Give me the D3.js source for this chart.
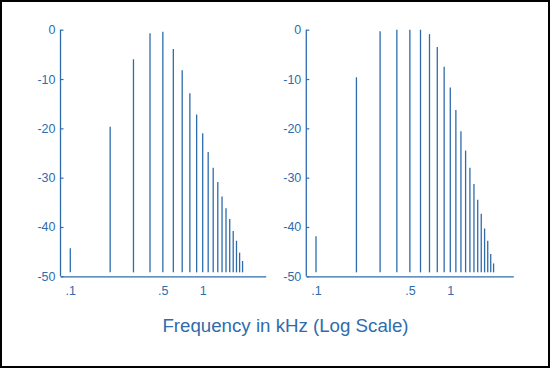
<!DOCTYPE html>
<html>
<head>
<meta charset="utf-8">
<script src="https://cdn.jsdelivr.net/npm/d3@7"></script>
<style>
  html, body { margin: 0; padding: 0; background: #fff; }
  svg { display: block; }
</style>
</head>
<body>
<script>
// ---- data ----
const leftFreqs = [0.1,0.2,0.3,0.4,0.5,0.6,0.7,0.8,0.9,1.0,1.1,1.2,1.3,1.4,1.5,1.6,1.7,1.8,1.9,2.0];
const leftLevels = [-44.3,-19.7,-6.0,-0.7,-0.4,-3.9,-8.2,-12.9,-17.2,-21.0,-24.8,-28.0,-30.9,-33.8,-36.2,-38.4,-40.8,-42.8,-45.2,-46.9];
const rightFreqs = [0.1,0.2,0.3,0.4,0.5,0.6,0.7,0.8,0.9,1.0,1.1,1.2,1.3,1.4,1.5,1.6,1.7,1.8,1.9,2.0,2.1];
const rightLevels = [-41.9,-9.65,-0.3,0,0,0,-0.9,-3.5,-7.5,-11.7,-16.3,-20.6,-24.5,-28.0,-31.3,-34.5,-37.3,-40.3,-42.8,-45.5,-47.4];
const yTicks = [0,-10,-20,-30,-40,-50];
const yTickLabels = ["0","-10","-20","-30","-40","-50"];
const xTicks = [0.1,0.5,1];
const xTickLabels = [".1",".5","1"];
const stemBase = -49.2;
const titleText = "Frequency in kHz (Log Scale)";

const W = 552, H = 368;
const blue = "#2f6cad";
const font = "Liberation Sans, Arial, sans-serif";
const svg = d3.select("body").append("svg").attr("width", W).attr("height", H);

svg.append("rect").attr("x", 1).attr("y", 1).attr("width", 548).attr("height", 366)
  .attr("fill", "#fff").attr("stroke", "#000").attr("stroke-width", 2);

const y = d3.scaleLinear().domain([-50, 0]).range([276.3, 29.7]);

function panel(axisX, axisEnd, x01, x1, freqs, levels) {
  const pxPerDec = (x1 - x01);
  const lo = Math.pow(10, -1 - (x01 - axisX) / pxPerDec);
  const hi = Math.pow(10, (axisEnd - x1) / pxPerDec);
  const x = d3.scaleLog().domain([lo, hi]).range([axisX, axisEnd]);
  const g = svg.append("g");

  // y axis
  const ya = g.append("g").attr("transform", `translate(${axisX},0)`)
    .call(d3.axisLeft(y).tickValues(yTicks).tickSize(-3).tickPadding(6)
      .tickFormat((d, i) => yTickLabels[i]));
  ya.select(".domain").attr("stroke", blue).attr("stroke-width", 1.3).attr("d", `M0,${y(-50)}V${y(0)}`);
  ya.selectAll(".tick line").attr("stroke", blue).attr("stroke-width", 1.2);
  ya.selectAll(".tick text").attr("fill", blue).attr("font-size", 12.5)
    .attr("font-family", font).attr("x", -5);

  // x axis
  const xa = g.append("g").attr("transform", `translate(0,${y(-50)})`)
    .call(d3.axisBottom(x).tickValues(xTicks).tickSize(0).tickPadding(10)
      .tickFormat((d, i) => xTickLabels[i]));
  xa.select(".domain").attr("stroke", blue).attr("stroke-width", 1.3);
  xa.selectAll(".tick text").attr("fill", blue).attr("font-size", 12.5)
    .attr("font-family", font);

  // stems
  g.append("g").selectAll("line").data(freqs).join("line")
    .attr("x1", d => x(d)).attr("x2", d => x(d))
    .attr("y1", y(stemBase)).attr("y2", (d, i) => y(levels[i]))
    .attr("stroke", blue).attr("stroke-width", 1.3);
}

panel(60.5, 265.7, 70.3, 202.7, leftFreqs, leftLevels);
panel(306.3, 513.3, 316, 450.3, rightFreqs, rightLevels);

svg.append("text").attr("x", 285.5).attr("y", 331.5).attr("text-anchor", "middle")
  .attr("fill", blue).attr("font-size", 18.7)
  .attr("font-family", font).text(titleText);
</script>
</body>
</html>
